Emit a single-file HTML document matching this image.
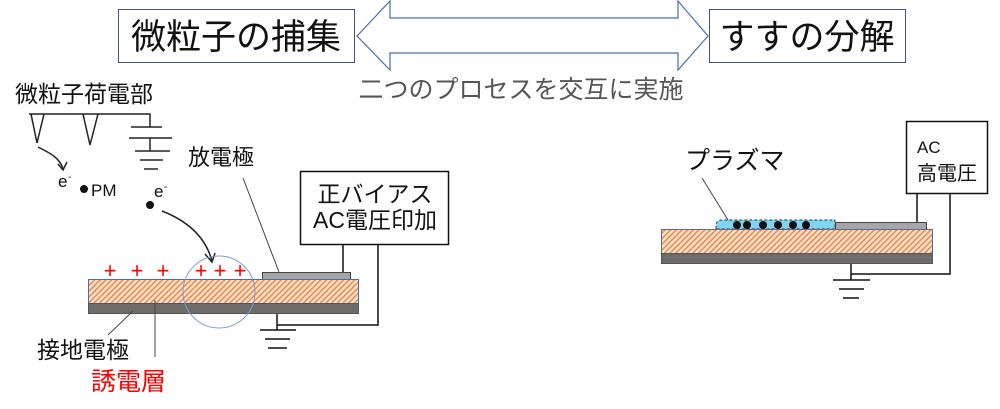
<!DOCTYPE html>
<html><head><meta charset="utf-8"><style>
html,body{margin:0;padding:0;background:#fff;}
svg{display:block;}
text{font-family:"Liberation Sans","Noto Sans CJK JP",sans-serif;}
</style></head><body>
<svg width="1000" height="409" viewBox="0 0 1000 409" xmlns="http://www.w3.org/2000/svg">
<defs>
<pattern id="h" width="4" height="4" patternUnits="userSpaceOnUse" patternTransform="rotate(45)">
<rect width="4" height="4" fill="#fbe3d3"/><rect width="1.6" height="4" fill="#f08a45"/>
</pattern>
</defs>
<!-- top -->
<rect x="118.5" y="9.5" width="236" height="53" fill="#fff" stroke="#41597a" stroke-width="1"/>
<text x="236" y="49" font-size="35" text-anchor="middle" fill="#111">微粒子の捕集</text>
<rect x="709.5" y="9.5" width="196" height="53" fill="#fff" stroke="#41597a" stroke-width="1"/>
<text x="807" y="49" font-size="35" text-anchor="middle" fill="#111">すすの分解</text>
<polygon points="357,36 390,1 390,18 678,18 678,1 708,36 678,70 678,53 390,53 390,70" fill="#fff" stroke="#4a6fa8" stroke-width="1.2"/>
<text x="521" y="98" font-size="25" text-anchor="middle" fill="#555">二つのプロセスを交互に実施</text>

<!-- left -->
<text x="15" y="102" font-size="23" fill="#111">微粒子荷電部</text>
<g stroke="#222" stroke-width="1.5" fill="none">
<polyline points="29,114 150,114 150,127"/>
<polyline points="31,114 37,143 44,114"/>
<polyline points="83,114 90,145 98,114"/>
<line x1="131" y1="127" x2="162" y2="127"/>
<line x1="129" y1="138" x2="172" y2="138"/>
<line x1="150" y1="138" x2="150" y2="151"/>
<line x1="135" y1="151" x2="170" y2="151"/>
<line x1="140" y1="160" x2="163" y2="160"/>
<line x1="144" y1="169" x2="158" y2="169"/>
<path d="M38,147 C50,153 60,158 63,169"/>
<polyline points="58,164 63,170 67,162"/>
<path d="M162,211 C185,220 205,235 212,261"/>
<polyline points="205,254 212,262 215,253"/>
</g>
<text x="58" y="187" font-size="17" fill="#111">e</text><text x="68" y="180" font-size="10" fill="#111">-</text>
<circle cx="84" cy="189" r="4" fill="#111"/>
<text x="91" y="196" font-size="17" fill="#111">PM</text>
<text x="154" y="197" font-size="17" fill="#111">e</text><text x="164" y="190" font-size="10" fill="#111">-</text>
<circle cx="150" cy="205" r="4" fill="#111"/>
<text x="188" y="165" font-size="22" fill="#111">放電極</text>
<line x1="243" y1="178" x2="279" y2="272" stroke="#444" stroke-width="1"/>

<rect x="300.5" y="171.5" width="148" height="73" fill="#fff" stroke="#111" stroke-width="1.5"/>
<text x="375" y="202" font-size="23" text-anchor="middle" fill="#111">正バイアス</text>
<text x="375" y="228" font-size="23" text-anchor="middle" fill="#111">AC電圧印加</text>
<g stroke="#111" stroke-width="1.5" fill="none">
<line x1="343" y1="244" x2="343" y2="273"/>
<polyline points="378,244 378,325 277,325"/>
<line x1="277" y1="313" x2="277" y2="330"/>
<line x1="260" y1="330" x2="296" y2="330"/>
<line x1="265" y1="339" x2="290" y2="339"/>
<line x1="268" y1="348" x2="287" y2="348"/>
</g>
<rect x="262.5" y="272.5" width="88" height="7" fill="#a6a6a6" stroke="#444" stroke-width="1"/>
<rect x="88.5" y="279.5" width="270" height="24" fill="url(#h)" stroke="#4a6fa8" stroke-width="1"/>
<rect x="88.5" y="303.5" width="270" height="10" fill="#6f6b6b" stroke="#555" stroke-width="1"/>
<circle cx="219" cy="292" r="36" fill="none" stroke="#7a9bd4" stroke-width="1"/>
<g fill="#f00" font-size="22" text-anchor="middle">
<text x="110" y="278">+</text><text x="137" y="278">+</text><text x="163" y="278">+</text>
<text x="201" y="278">+</text><text x="220" y="278">+</text><text x="240" y="278">+</text>
</g>
<line x1="133" y1="311" x2="108" y2="335" stroke="#444" stroke-width="1"/>
<line x1="155" y1="300" x2="155" y2="357" stroke="#444" stroke-width="1"/>
<text x="37" y="358" font-size="23" fill="#111">接地電極</text>
<text x="91" y="390" font-size="25" fill="#f00">誘電層</text>

<!-- right -->
<text x="685" y="169" font-size="25" fill="#111">プラズマ</text>
<line x1="702" y1="178" x2="728" y2="220" stroke="#444" stroke-width="1"/>
<rect x="906.5" y="121.5" width="81" height="72" fill="#fff" stroke="#111" stroke-width="1.5"/>
<text x="917" y="153" font-size="17" fill="#111">AC</text>
<text x="917" y="180" font-size="20" fill="#111">高電圧</text>
<g stroke="#111" stroke-width="1.5" fill="none">
<line x1="917" y1="193" x2="917" y2="223"/>
<polyline points="950,193 950,274 851,274"/>
<line x1="851" y1="263" x2="851" y2="280"/>
<line x1="833" y1="280" x2="870" y2="280"/>
<line x1="839" y1="289" x2="864" y2="289"/>
<line x1="843" y1="298" x2="859" y2="298"/>
</g>
<rect x="835.5" y="222.5" width="91" height="7" fill="#a6a6a6" stroke="#444" stroke-width="1"/>
<path d="M716,229 L716,226 Q716,220 722,220 L835,220 L835,229 Z" fill="#7fd4f2" stroke="#333" stroke-width="1" stroke-dasharray="3,2"/>
<g fill="#111">
<circle cx="737" cy="225" r="4"/><circle cx="747" cy="225" r="4"/><circle cx="763" cy="225" r="4"/>
<circle cx="778" cy="225" r="4"/><circle cx="793" cy="225" r="4"/><circle cx="806" cy="225" r="4"/>
</g>
<rect x="661.5" y="229.5" width="271" height="24" fill="url(#h)" stroke="#4a6fa8" stroke-width="1"/>
<rect x="661.5" y="253.5" width="271" height="10" fill="#6f6b6b" stroke="#555" stroke-width="1"/>
</svg>
</body></html>
